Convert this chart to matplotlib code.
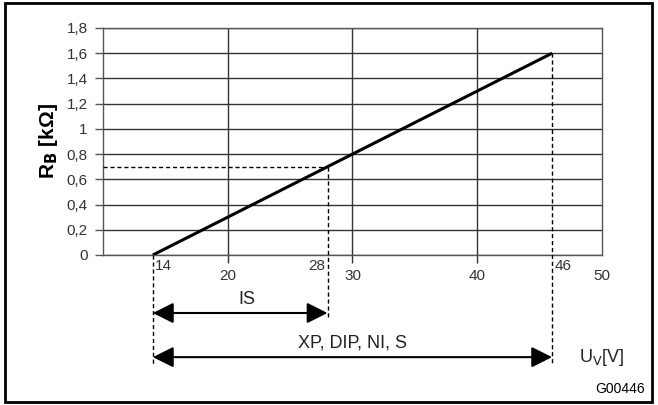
import matplotlib.pyplot as plt
from matplotlib.patches import Rectangle

# characteristic R_B over supply voltage
u_points = [14, 46]
r_points = [0.0, 1.6]

x_ticks = [20, 30, 40, 50]
y_ticks = [0, 0.2, 0.4, 0.6, 0.8, 1.0, 1.2, 1.4, 1.6, 1.8]
y_labels = ['0', '0,2', '0,4', '0,6', '0,8', '1', '1,2', '1,4', '1,6', '1,8']

is_range = [14, 28]
is_r = 0.7
xp_range = [14, 46]

plt.rcParams['font.family'] = ['Liberation Sans', 'DejaVu Sans']

fig = plt.figure(figsize=(6.58, 4.05), dpi=100)
ax = fig.add_axes([0.1565, 0.3704, 0.7584, 0.5605])
ax.set_xlim(10, 50)
ax.set_ylim(0, 1.8)

# tick marks below the axis only at the inner grid lines
ax.set_xticks([20, 30, 40])
ax.set_xticklabels([])
ax.set_yticks(y_ticks)
ax.set_yticklabels(y_labels, fontsize=11, color='#333333')
ax.tick_params(axis='y', length=6, width=1, color='#555555', pad=5)
ax.tick_params(axis='x', length=6, width=1, color='#333333')
ax.grid(True, color='#333333', linewidth=1)
for s in ax.spines.values():
    s.set_color('#555555')
    s.set_linewidth(1)
ax.set_axisbelow(True)

for xv in x_ticks:
    ax.text(xv, -0.17, str(xv), ha='center', va='center', fontsize=11, color='#333333')

ax.plot(u_points, r_points, color='black', linewidth=2.2, solid_capstyle='butt', zorder=5)

ax.set_ylabel(r'R$_\mathbf{B}$ [kΩ]', fontsize=15, fontweight='bold', labelpad=5)

# dashed guides (extend below axis)
dash = dict(color='black', linewidth=1, linestyle=(0, (3, 2)), clip_on=False, zorder=4)
ax.plot([10, is_range[1]], [is_r, is_r], **dash)
ax.plot([is_range[1], is_range[1]], [is_r, -0.5], **dash)
ax.plot([u_points[0], u_points[0]], [0, -0.87], **dash)
ax.plot([u_points[1], u_points[1]], [r_points[1], -0.86], **dash)

ax.text(u_points[0] + 0.2, -0.09, '14', ha='left', va='center', fontsize=11, color='#333333')
ax.text(is_range[1] - 0.2, -0.09, '28', ha='right', va='center', fontsize=11, color='#333333')
ax.text(u_points[1] + 0.2, -0.09, '46', ha='left', va='center', fontsize=11, color='#333333')

arrow = dict(arrowstyle='<|-|>,head_length=0.9,head_width=0.45', color='black',
             linewidth=1.5, shrinkA=0, shrinkB=0, mutation_scale=14)
ax.annotate('', xy=(is_range[1], -0.46), xytext=(is_range[0], -0.46),
            arrowprops=arrow, annotation_clip=False)
ax.annotate('', xy=(xp_range[1], -0.81), xytext=(xp_range[0], -0.81),
            arrowprops=arrow, annotation_clip=False)

ax.text(21.5, -0.35, 'IS', ha='center', va='center', fontsize=13, color='#222222')
ax.text(30, -0.70, 'XP, DIP, NI, S', ha='center', va='center', fontsize=13, color='#222222')
ax.text(50, -0.81, r'U$_\mathrm{V}$[V]', ha='center', va='center', fontsize=13, color='#222222')

fig.text(0.943, 0.04, 'G00446', ha='center', va='center', fontsize=10, color='black')

fig.patches.append(Rectangle((0.008, 0.007), 0.983, 0.985, transform=fig.transFigure,
                             fill=False, edgecolor='black', linewidth=2))

fig.savefig('out.png', dpi=100)
